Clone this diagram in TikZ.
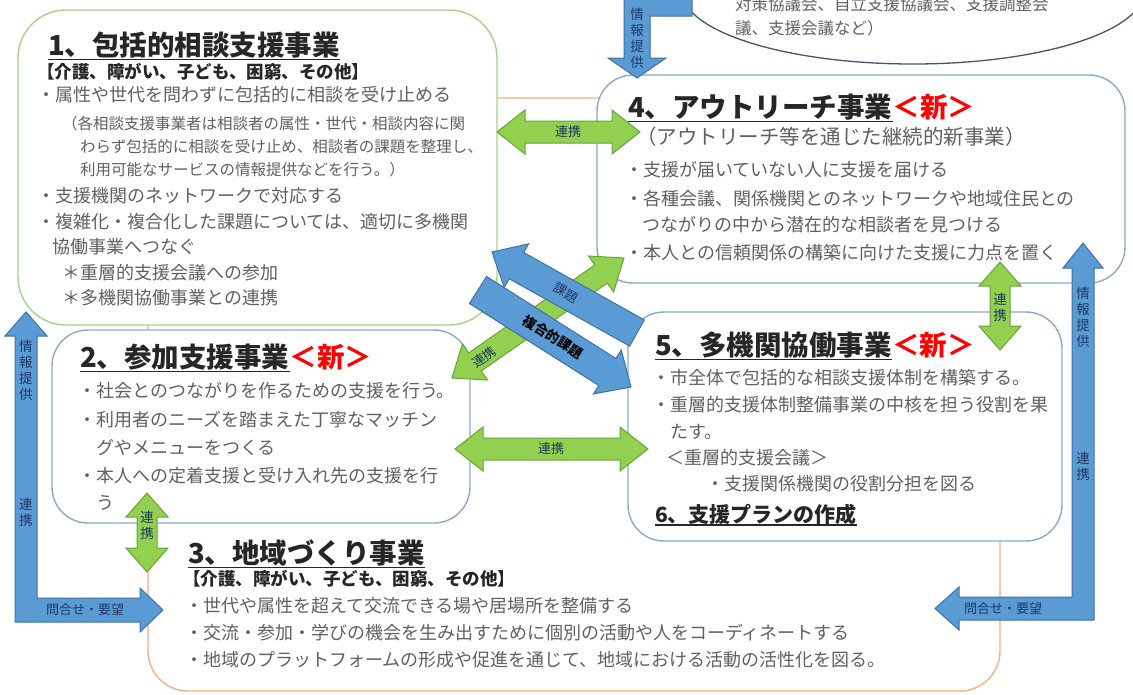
\documentclass[tikz,border=0pt]{standalone}
\usepackage{fontspec}
\setmainfont{Noto Sans CJK JP}
\usetikzlibrary{shapes.geometric}
\definecolor{bodygray}{HTML}{606060}
\definecolor{titleblack}{HTML}{262626}
\definecolor{greenbox}{HTML}{A9D18E}
\definecolor{bluebox}{HTML}{8EA9C8}
\definecolor{orangebox}{HTML}{F4B183}
\definecolor{ellline}{HTML}{44546A}
\definecolor{arrowgreen}{HTML}{92D050}
\definecolor{greenedge}{HTML}{6AA23A}
\definecolor{arrowblue}{HTML}{5B9BD5}
\definecolor{blueedge}{HTML}{41719C}
\definecolor{labelblue}{HTML}{1F3864}
\newcommand\myTitle{\bfseries\fontsize{27.5}{32}\selectfont}
\newcommand\mySub{\bfseries\fontsize{17.5}{20}\selectfont}
\newcommand\myBody{\fontsize{18}{21}\selectfont}
\newcommand\mySmall{\fontsize{15.5}{18}\selectfont}
\newcommand\myLabel{\fontsize{13}{15}\selectfont}
\newcommand\myVLabel{\fontsize{13.5}{16}\selectfont}
\newdimen\faAx \newdimen\faAy \newdimen\faBx \newdimen\faBy
\newcommand\faGet[2]{%
  \pgfextractx{\faAx}{\pgfpointanchor{#1}{center}}%
  \pgfextracty{\faAy}{\pgfpointanchor{#1}{center}}%
  \pgfextractx{\faBx}{\pgfpointanchor{#2}{center}}%
  \pgfextracty{\faBy}{\pgfpointanchor{#2}{center}}%
  \edef\faAX{\the\faAx}\edef\faAY{\the\faAy}%
  \pgfmathsetmacro\faAng{atan2(\faBy-\faAy,\faBx-\faAx)}%
  \pgfmathsetmacro\faLen{veclen(\faBx-\faAx,\faBy-\faAy)}}
% double-headed block arrow: style, from, to, shaft half, head half, head length
\newcommand\dblarrow[6]{%
  \faGet{#2}{#3}%
  \pgfmathsetmacro\faL{\faLen-#6}%
  \begin{scope}[shift={(\faAX,\faAY)},rotate=\faAng]
    \draw[#1] (0pt,0pt) -- (#6pt,#5pt) -- (#6pt,#4pt) -- (\faL pt,#4pt) -- (\faL pt,#5pt)
      -- (\faLen pt,0pt) -- (\faL pt,-#5pt) -- (\faL pt,-#4pt) -- (#6pt,-#4pt) -- (#6pt,-#5pt) -- cycle;
  \end{scope}}
% single-headed block arrow, head at "to"
\newcommand\sglarrow[6]{%
  \faGet{#2}{#3}%
  \pgfmathsetmacro\faL{\faLen-#6}%
  \begin{scope}[shift={(\faAX,\faAY)},rotate=\faAng]
    \draw[#1] (0pt,#4pt) -- (\faL pt,#4pt) -- (\faL pt,#5pt) -- (\faLen pt,0pt)
      -- (\faL pt,-#5pt) -- (\faL pt,-#4pt) -- (0pt,-#4pt) -- cycle;
  \end{scope}}
\tikzset{
  boxA/.style={draw=greenbox, line width=1.4pt, fill=white, rounded corners=48pt, inner sep=0pt},
  boxB/.style={draw=bluebox, line width=1.4pt, fill=white, rounded corners=36pt, inner sep=0pt},
  boxC/.style={draw=orangebox, line width=1.4pt, fill=white, rounded corners=40pt, inner sep=0pt},
  body/.style={anchor=west, inner sep=0pt, text=bodygray, font=\myBody},
  small/.style={anchor=west, inner sep=0pt, text=bodygray, font=\mySmall},
  ttl/.style={anchor=west, inner sep=0pt, text=titleblack, font=\myTitle},
  subttl/.style={anchor=west, inner sep=0pt, text=titleblack, font=\mySub},
  newmark/.style={anchor=base west, inner sep=0pt, text=red, font=\myTitle},
  uline/.style={line width=1.8pt, titleblack},
  garrow/.style={fill=arrowgreen, draw=greenedge, line width=1pt, line join=miter},
  barrow/.style={fill=arrowblue, draw=blueedge, line width=1pt, line join=miter},
  alabel/.style={inner sep=0pt, text=labelblue, font=\myLabel},
  vlabel/.style={inner sep=0pt, text=labelblue, font=\myVLabel, align=center},
}
\begin{document}
\begin{tikzpicture}[x=1pt,y=-1pt]
\useasboundingbox[fill=white] (0,0) rectangle (1133,694);
% ---- boxes
\node[boxC, minimum width=852pt, minimum height=593pt] (box3) at (574,394.5) {};
\node[boxA, minimum width=479pt, minimum height=315pt] (box1) at (257.5,167.5) {};
\node[boxB, minimum width=418pt, minimum height=193pt] (box2) at (261,426.5) {};
\node[boxB, minimum width=528pt, minimum height=208pt] (box4) at (861,179) {};
\node[boxB, minimum width=434pt, minimum height=229pt] (box5) at (845,426.5) {};
\node[draw=ellline, line width=1.3pt, fill=white, ellipse, minimum width=462pt, minimum height=146pt, inner sep=0pt] (ell) at (913,-9) {};
% ---- ellipse text
\node[small, font=\fontsize{16.5}{19}\selectfont] (e1) at (735,4) {対策協議会、自立支援協議会、支援調整会};
\node[small, font=\fontsize{16.5}{19}\selectfont] (e2) at (735,28) {議、支援会議など）};
% ---- box 1
\node[ttl] (t1) at (48,45) {1、包括的相談支援事業};
\draw[uline] ([yshift=-4pt]t1.base west) -- ([yshift=-4pt]t1.base east);
\node[subttl] (s1) at (37,72) {【介護、障がい、子ども、困窮、その他】};
\node[body] (b1a) at (37,95) {・属性や世代を問わずに包括的に相談を受け止める};
\node[small] (b1b) at (62,124) {（各相談支援事業者は相談者の属性・世代・相談内容に関};
\node[small] (b1c) at (80,147) {わらず包括的に相談を受け止め、相談者の課題を整理し、};
\node[small] (b1d) at (80,170) {利用可能なサービスの情報提供などを行う。）};
\node[body] (b1e) at (37,196) {・支援機関のネットワークで対応する};
\node[body] (b1f) at (37,222) {・複雑化・複合化した課題については、適切に多機関};
\node[body] (b1g) at (52,247) {協働事業へつなぐ};
\node[body] (b1h) at (62,273) {＊重層的支援会議への参加};
\node[body] (b1i) at (62,298) {＊多機関協働事業との連携};
% ---- box 2
\node[ttl] (t2) at (80,357) {2、参加支援事業};
\draw[uline] ([yshift=-4pt]t2.base west) -- ([yshift=-4pt]t2.base east);
\node[newmark] (n2) at (t2.base east) {＜新＞};
\node[body] (b2a) at (78,391) {・社会とのつながりを作るための支援を行う。};
\node[body] (b2b) at (78,420) {・利用者のニーズを踏まえた丁寧なマッチン};
\node[body] (b2c) at (96,448) {グやメニューをつくる};
\node[body] (b2d) at (78,476) {・本人への定着支援と受け入れ先の支援を行};
\node[body] (b2e) at (96,503) {う};
% ---- box 4
\node[ttl] (t4) at (628,107) {4、アウトリーチ事業};
\draw[uline] ([yshift=-4pt]t4.base west) -- ([yshift=-4pt]t4.base east);
\node[newmark] (n4) at (t4.base east) {＜新＞};
\node[body, font=\fontsize{20.5}{24}\selectfont] (s4) at (636,137) {（アウトリーチ等を通じた継続的新事業）};
\node[body] (b4a) at (625,170) {・支援が届いていない人に支援を届ける};
\node[body] (b4b) at (625,199) {・各種会議、関係機関とのネットワークや地域住民との};
\node[body] (b4c) at (642,225) {つながりの中から潜在的な相談者を見つける};
\node[body] (b4d) at (625,253) {・本人との信頼関係の構築に向けた支援に力点を置く};
% ---- box 5
\node[ttl] (t5) at (655,345) {5、多機関協働事業};
\draw[uline] ([yshift=-4pt]t5.base west) -- ([yshift=-4pt]t5.base east);
\node[newmark] (n5) at (t5.base east) {＜新＞};
\node[body] (b5a) at (652,378) {・市全体で包括的な相談支援体制を構築する。};
\node[body] (b5b) at (652,405) {・重層的支援体制整備事業の中核を担う役割を果};
\node[body] (b5c) at (670,432) {たす。};
\node[body] (b5d) at (666,458) {＜重層的支援会議＞};
\node[body] (b5e) at (706,484) {・支援関係機関の役割分担を図る};
\node[ttl, font=\bfseries\fontsize{21}{24}\selectfont] (t6) at (655,514) {6、支援プランの作成};
\draw[uline, line width=1.5pt] ([yshift=-3pt]t6.base west) -- ([yshift=-3pt]t6.base east);
% ---- box 3
\node[ttl] (t3) at (188,553) {3、地域づくり事業};
\draw[uline] ([yshift=-4pt]t3.base west) -- ([yshift=-4pt]t3.base east);
\node[subttl] (s3) at (183,579) {【介護、障がい、子ども、困窮、その他】};
\node[body] (b3a) at (185,606) {・世代や属性を超えて交流できる場や居場所を整備する};
\node[body] (b3b) at (185,633) {・交流・参加・学びの機会を生み出すために個別の活動や人をコーディネートする};
\node[body] (b3c) at (185,660) {・地域のプラットフォームの形成や促進を通じて、地域における活動の活性化を図る。};
% ---- arrow end points
\coordinate (g14a) at (497,132); \coordinate (g14b) at (640,132);
\coordinate (g25a) at (455,449); \coordinate (g25b) at (648,449);
\coordinate (g23a) at (147,493); \coordinate (g23b) at (147,572);
\coordinate (g45a) at (1000,262); \coordinate (g45b) at (1000,350);
\coordinate (gda) at (452,378); \coordinate (gdb) at (624,258);
\coordinate (kta) at (637,333); \coordinate (ktb) at (492,252);
\coordinate (fka) at (478,290); \coordinate (fkb) at (631,387);
% ---- green arrows
\dblarrow{garrow}{g14a}{g14b}{11}{22}{28}
\dblarrow{garrow}{g25a}{g25b}{11}{22}{28}
\dblarrow{garrow}{g23a}{g23b}{10}{21}{24}
\dblarrow{garrow}{g45a}{g45b}{10}{21}{24}
\dblarrow{garrow}{gda}{gdb}{11}{22}{28}
\node[alabel] (l14) at (568,132) {連携};
\node[alabel] (l25) at (551,449) {連携};
\node[vlabel] (l23) at (147,525) {連\\携};
\node[vlabel] (l45) at (1000,307) {連\\携};
% ---- blue diagonal arrows
\sglarrow{barrow}{kta}{ktb}{15}{25}{28}
\sglarrow{barrow}{fka}{fkb}{16}{26}{28}
\node[alabel, rotate=35] (ld) at (484,357) {連携};
\node[alabel, rotate=-29] (lk) at (566,293) {課題};
\node[alabel, rotate=-32, text=black, font=\bfseries\fontsize{13.5}{15}\selectfont] (lf) at (553,337) {複合的課題};
% ---- blue L arrows
\draw[barrow] (624,-5) -- (692,-5) -- (692,16) -- (650,16) -- (650,58) -- (666,58) -- (637,78) -- (608,58) -- (624,58) -- cycle;
\node[vlabel] (ltop) at (637,38) {情\\報\\提\\供};
\draw[barrow] (15,622) -- (15,336) -- (5,336) -- (26,312) -- (47,336) -- (37,336) -- (37,598) -- (140,598) -- (140,588) -- (163,610) -- (140,632) -- (140,622) -- cycle;
\node[vlabel] (lL1) at (26,370) {情\\報\\提\\供};
\node[vlabel] (lL2) at (26,512) {連\\携};
\node[alabel] (lL3) at (85,610) {問合せ・要望};
\draw[barrow] (1094,620) -- (1094,268) -- (1103,268) -- (1083,243) -- (1063,268) -- (1072,268) -- (1072,597) -- (959,597) -- (959,587) -- (935,608.5) -- (959,630) -- (959,620) -- cycle;
\node[vlabel] (lR1) at (1083,317) {情\\報\\提\\供};
\node[vlabel] (lR2) at (1083,466) {連\\携};
\node[alabel] (lR3) at (1003,608.5) {問合せ・要望};
\end{tikzpicture}
\end{document}
